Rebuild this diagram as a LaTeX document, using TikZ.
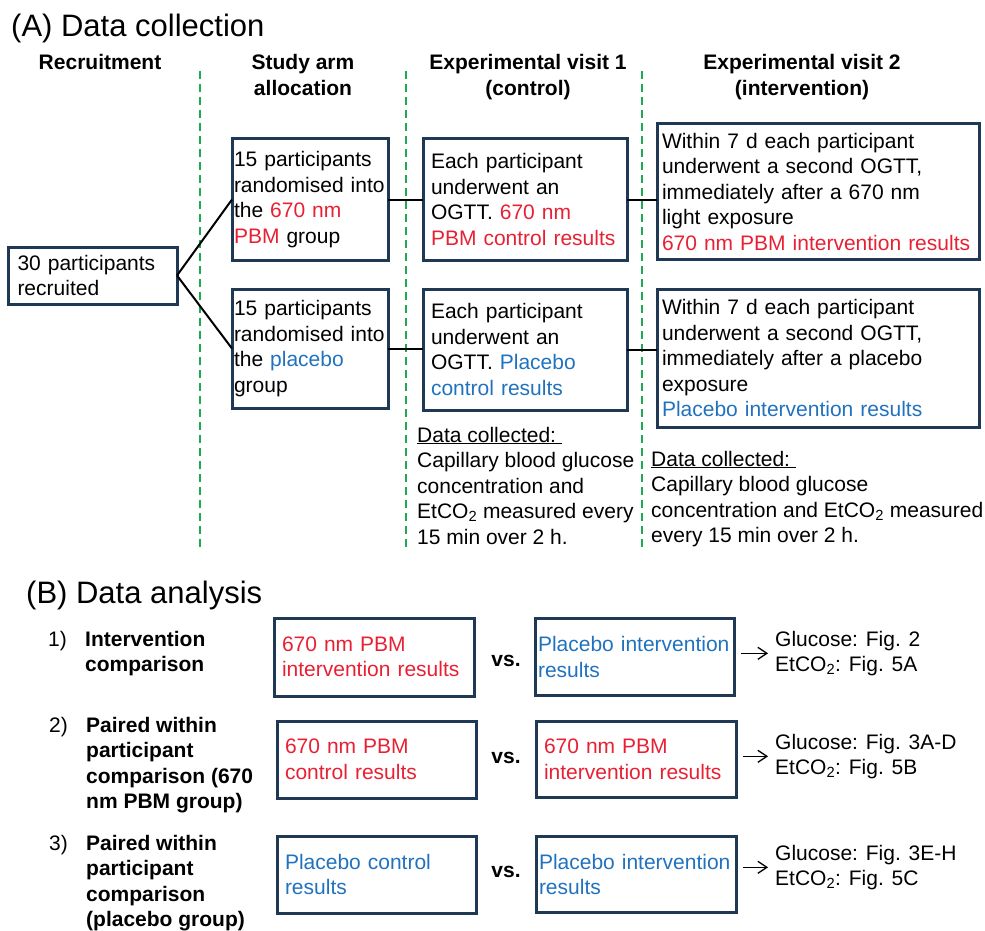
\documentclass[tikz,border=0pt]{standalone}
\usepackage{fontspec}
\setmainfont{Liberation Sans}
\usetikzlibrary{positioning,arrows.meta}

\definecolor{boxline}{RGB}{31,56,84}
\definecolor{pbmred}{RGB}{232,32,52}
\definecolor{plcblue}{RGB}{32,114,190}
\definecolor{sepgreen}{RGB}{30,170,80}

\newcommand{\txtsize}{\fontsize{21pt}{25.5pt}\selectfont}
\newcommand{\ttlsize}{\fontsize{31pt}{37pt}\selectfont}
\newcommand{\pbm}[1]{\textcolor{pbmred}{#1}}
\newcommand{\plc}[1]{\textcolor{plcblue}{#1}}
\newcommand{\etco}{EtCO\textsubscript{2}}

\begin{document}
\begin{tikzpicture}[x=1pt,y=-1pt,
	box/.style={draw=boxline,line width=3pt,anchor=north west,align=left,inner xsep=8pt,inner ysep=0pt,outer sep=0pt,font=\txtsize},
	txt/.style={anchor=base west,align=left,inner sep=0pt,font=\txtsize},
	lab/.style={txt,font=\txtsize\bfseries},
	colhead/.style={anchor=base,align=center,inner sep=0pt,font=\txtsize\bfseries},
	ttl/.style={anchor=base west,inner sep=0pt,font=\ttlsize},
	link/.style={line width=2pt},
	res/.style={-{Straight Barb[length=9pt,width=12pt]},line width=1.3pt,shorten <=7pt,shorten >=7pt},
	divider/.style={draw=sepgreen,line width=2.5pt,dash pattern=on 8pt off 5pt}]
		\useasboundingbox (0,0) rectangle (985,931);
		
		% (A) data collection
		\node[ttl] (titleA) at (11,37) {(A) Data collection};
		\node[colhead] (h_rec) at (100,70) {Recruitment};
		\node[colhead] (h_arm) at (303,95.5) {Study arm\\allocation};
		\node[colhead] (h_v1) at (528,95.5) {Experimental visit 1\\(control)};
		\node[colhead] (h_v2) at (802,95.5) {Experimental visit 2\\(intervention)};
		
		\foreach \xd in {200,406,642}
			\draw[divider] (\xd,71) -- (\xd,549);
		
		\node[box,inner xsep=9.5pt,text width=150pt,minimum height=57pt] (rec) at (8,247) {30 participants\\recruited};
		\node[box,inner xsep=2pt,text width=152pt,minimum height=121pt] (arm1) at (232,139) {15 participants\\randomised into\\the \pbm{670 nm}\\\pbm{PBM} group};
		\node[box,inner xsep=2pt,text width=152pt,minimum height=119pt] (arm2) at (232,289) {15 participants\\randomised into\\the \plc{placebo}\\group};
		\node[box,text width=188pt,minimum height=121pt] (vis1a) at (423,139) {Each participant\\underwent an\\OGTT. \pbm{670 nm}\\\pbm{PBM control results}};
		\node[box,text width=188pt,minimum height=121pt] (vis1b) at (423,289) {Each participant\\underwent an\\OGTT. \plc{Placebo}\\\plc{control results}};
		\node[box,inner xsep=5pt,text width=312pt,minimum height=135pt] (vis2a) at (657,124) {Within 7 d each participant\\underwent a second OGTT,\\immediately after a 670 nm\\light exposure\\\pbm{670 nm PBM intervention results}};
		\node[box,inner xsep=5pt,text width=312pt,minimum height=138pt] (vis2b) at (657,289) {Within 7 d each participant\\underwent a second OGTT,\\immediately after a placebo\\exposure\\\plc{Placebo intervention results}};
		
		\node[txt] (data1) at (417,544) {\underline{Data collected:\ }\\Capillary blood glucose\\concentration and\\\etco{} measured every\\15 min over 2 h.};
		\node[txt] (data2) at (651,542.5) {\underline{Data collected:\ }\\Capillary blood glucose\\concentration and \etco{} measured\\every 15 min over 2 h.};
		
		\path[link]
		(rec.east) edge (arm1.west)
		           edge (arm2.west)
		(arm1.east) edge (arm1.east -| vis1a.west)
		(arm2.east) edge (arm2.east -| vis1b.west)
		(vis1a.east) edge (vis1a.east -| vis2a.west)
		(vis1b.east) edge (vis1b.east -| vis2b.west);
		
		% (B) data analysis
		\node[ttl] (titleB) at (26,603) {(B) Data analysis};
		
		\node[txt] (n1) at (48,646) {1)};
		\node[lab] (lab1) at (85,671.5) {Intervention\\comparison};
		\node[txt] (n2) at (49,732) {2)};
		\node[lab] (lab2) at (86,808.5) {Paired within\\participant\\comparison (670\\nm PBM group)};
		\node[txt] (n3) at (49,850) {3)};
		\node[lab] (lab3) at (86,926.5) {Paired within\\participant\\comparison\\(placebo group)};
		
		\node[box,text width=184pt,minimum height=78pt] (b1l) at (274,618) {\pbm{670 nm PBM}\\\pbm{intervention results}};
		\node[box,inner xsep=3pt,text width=193pt,minimum height=77pt] (b1r) [right=61pt of b1l] {\plc{Placebo intervention}\\\plc{results}};
		\node[box,text width=183pt,minimum height=77pt] (b2l) at (277,721) {\pbm{670 nm PBM}\\\pbm{control results}};
		\node[box,text width=184pt,minimum height=76pt] (b2r) [right=60pt of b2l] {\pbm{670 nm PBM}\\\pbm{intervention results}};
		\node[box,text width=183pt,minimum height=77pt] (b3l) at (277,836) {\plc{Placebo control}\\\plc{results}};
		\node[box,inner xsep=3pt,text width=194pt,minimum height=76pt] (b3r) [right=60pt of b3l] {\plc{Placebo intervention}\\\plc{results}};
		
		\node[font=\txtsize\bfseries] (vs1) at (506,661) {vs.};
		\node[font=\txtsize\bfseries] (vs2) at (506,758) {vs.};
		\node[font=\txtsize\bfseries] (vs3) at (506,872) {vs.};
		
		\node[txt] (res1) at (775,671.5) {Glucose: Fig. 2\\\etco: Fig. 5A};
		\node[txt] (res2) at (775,774.5) {Glucose: Fig. 3A-D\\\etco: Fig. 5B};
		\node[txt] (res3) at (775,885.5) {Glucose: Fig. 3E-H\\\etco: Fig. 5C};
		
		\draw[res] (b1r.east |- res1.west) -- (res1.west);
		\draw[res] (b2r.east |- res2.west) -- (res2.west);
		\draw[res] (b3r.east |- res3.west) -- (res3.west);
\end{tikzpicture}
\end{document}
